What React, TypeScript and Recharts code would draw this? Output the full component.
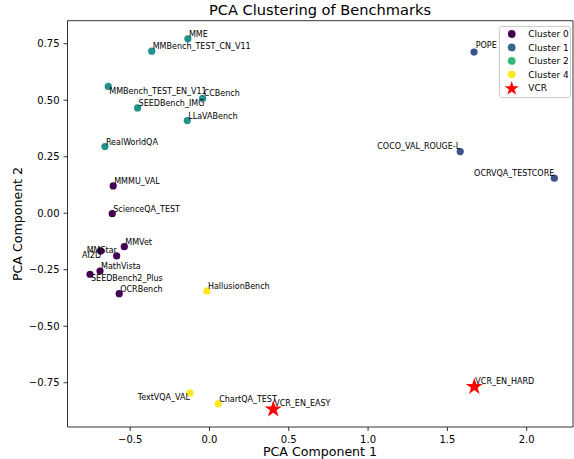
import React from 'react';
import { ScatterChart, Scatter, XAxis, YAxis, Legend } from 'recharts';

const benchmarks = [
  'MME', 'MMBench_TEST_CN_V11', 'MMBench_TEST_EN_V11', 'CCBench', 'SEEDBench_IMG', 'LLaVABench', 'RealWorldQA',
  'MMMU_VAL', 'ScienceQA_TEST', 'MMVet', 'MMStar', 'AI2D', 'MathVista', 'SEEDBench2_Plus', 'OCRBench',
  'POPE', 'COCO_VAL_ROUGE-L', 'OCRVQA_TESTCORE',
  'HallusionBench', 'TextVQA_VAL', 'ChartQA_TEST',
];
const pc1 = [
  -0.136, -0.364, -0.638, -0.043, -0.453, -0.14, -0.659,
  -0.607, -0.613, -0.537, -0.686, -0.585, -0.69, -0.753, -0.569,
  1.668, 1.581, 2.174,
  -0.016, -0.123, 0.055,
];
const pc2 = [
  0.772, 0.717, 0.561, 0.508, 0.466, 0.41, 0.295,
  0.121, -0.002, -0.148, -0.167, -0.189, -0.256, -0.27, -0.356,
  0.713, 0.273, 0.155,
  -0.344, -0.795, -0.843,
];
const clusterIds = [
  2, 2, 2, 2, 2, 2, 2,
  0, 0, 0, 0, 0, 0, 0, 0,
  1, 1, 1,
  4, 4, 4,
];

const vcrNames = ['VCR_EN_EASY', 'VCR_EN_HARD'];
const vcrPc1 = [0.402, 1.67];
const vcrPc2 = [-0.864, -0.764];

const clusterList = [0, 1, 2, 4];
const legendNames = ['Cluster 0', 'Cluster 1', 'Cluster 2', 'Cluster 4', 'VCR'];

const xTicks = [-0.5, 0, 0.5, 1, 1.5, 2];
const yTicks = [-0.75, -0.5, -0.25, 0, 0.25, 0.5, 0.75];

// ---- styling ----
const FONT = '"DejaVu Sans", Verdana, sans-serif';
const pointColors: Record<number, string> = { 0: '#440154', 1: '#3b528b', 2: '#21918c', 4: '#fde725' };
const legendColors = ['#440154', '#31688e', '#35b779', '#fde725', '#ff0000'];
const xDomain: [number, number] = [-0.895, 2.292];
const yDomain: [number, number] = [-0.946, 0.852];

const PLOT = { left: 67.5, top: 20.7, right: 573, bottom: 427 };

const labelPlacement: Record<string, { dx: number; dy: number; anchor?: 'start' | 'end' }> = {
  'MMBench_TEST_EN_V11': { dx: 1, dy: 7.6 },
  'MMStar': { dx: -14, dy: 2.3 },
  'AI2D': { dx: -34.7, dy: 2 },
  'SEEDBench2_Plus': { dx: 1, dy: 7 },
  'TextVQA_VAL': { dx: 0, dy: 6.7, anchor: 'end' },
  'COCO_VAL_ROUGE-L': { dx: 0, dy: -2.4, anchor: 'end' },
  'OCRVQA_TESTCORE': { dx: 0, dy: -2.3, anchor: 'end' },
  'POPE': { dx: 1.7, dy: -4 },
};

const fmtMinus = (v: number, d: number) => {
  const s = Math.abs(v).toFixed(d);
  return v < 0 ? '\u2212' + s : s;
};

const clusterData = clusterList.map((c) =>
  benchmarks
    .map((name, i) => ({ name, x: pc1[i], y: pc2[i], c: clusterIds[i] }))
    .filter((d) => d.c === c)
);
const vcrData = vcrNames.map((name, i) => ({ name, x: vcrPc1[i], y: vcrPc2[i] }));
const labelData = [
  ...benchmarks.map((name, i) => ({ name, x: pc1[i], y: pc2[i] })),
  ...vcrData,
];

const starPath = (cx: number, cy: number, R: number) => {
  const r = R * 0.381966;
  const pts: string[] = [];
  for (let i = 0; i < 10; i++) {
    const a = (-90 + i * 36) * (Math.PI / 180);
    const rad = i % 2 === 0 ? R : r;
    pts.push(`${(cx + rad * Math.cos(a)).toFixed(2)},${(cy + rad * Math.sin(a)).toFixed(2)}`);
  }
  return 'M' + pts.join('L') + 'Z';
};

const makeDot = (color: string) => (props: any) => {
  const { cx, cy } = props;
  if (cx == null || cy == null) return <g />;
  return <circle cx={cx} cy={cy} r={3.6} fill={color} />;
};

const StarShape = (props: any) => {
  const { cx, cy } = props;
  if (cx == null || cy == null) return <g />;
  return <path d={starPath(cx, cy + 0.8, 9)} fill="#ff0000" />;
};

const LabelShape = (props: any) => {
  const { cx, cy, payload } = props;
  if (cx == null || cy == null || !payload) return <g />;
  const p = labelPlacement[payload.name] || { dx: 1, dy: -2 };
  return (
    <text
      x={cx + p.dx}
      y={cy + p.dy}
      textAnchor={p.anchor || 'start'}
      fontSize={8}
      fontFamily={FONT}
      fill="#000"
    >
      {payload.name}
    </text>
  );
};

const LegendBox = () => {
  const rowY = (i: number) => 8 + i * 13.45;
  return (
    <svg width={73} height={73} style={{ display: 'block' }}>
      <rect x={0.5} y={0.5} width={71} height={71} rx={2.5} ry={2.5} fill="rgba(255,255,255,0.8)" stroke="#cccccc" strokeWidth={1} />
      {legendNames.map((n, i) => (
        <g key={n}>
          {i < 4 ? (
            <circle cx={12.7} cy={rowY(i)} r={3.9} fill={legendColors[i]} />
          ) : (
            <path d={starPath(12.7, rowY(i) + 0.8, 7.5)} fill={legendColors[i]} />
          )}
          <text x={29.3} y={rowY(i) + 3.3} fontSize={9} fontFamily={FONT} fill="#000">
            {n}
          </text>
        </g>
      ))}
    </svg>
  );
};

export default function App() {
  const tickStyle = { fontSize: 10, fill: '#000', fontFamily: FONT };
  return (
    <div style={{ position: 'absolute', left: 0, top: 0, width: 574, height: 459, background: '#fff' }}>
      <ScatterChart width={574} height={459} margin={{ top: PLOT.top, right: 574 - PLOT.right, bottom: 0, left: 0 }}>
        <XAxis
          dataKey="x"
          type="number"
          domain={xDomain}
          allowDataOverflow
          ticks={xTicks}
          interval={0}
          tickFormatter={(v: number) => fmtMinus(v, 1)}
          tick={tickStyle}
          tickSize={4}
          tickMargin={4.5}
          tickLine={{ stroke: '#000', strokeWidth: 0.8 }}
          axisLine={{ stroke: '#000', strokeWidth: 0.8 }}
          height={459 - PLOT.bottom}
        />
        <YAxis
          dataKey="y"
          type="number"
          domain={yDomain}
          allowDataOverflow
          ticks={yTicks}
          interval={0}
          tickFormatter={(v: number) => fmtMinus(v, 2)}
          tick={tickStyle}
          tickSize={4}
          tickMargin={4}
          tickLine={{ stroke: '#000', strokeWidth: 0.8 }}
          axisLine={{ stroke: '#000', strokeWidth: 0.8 }}
          width={PLOT.left}
        />
        {clusterList.map((c, i) => (
          <Scatter
            key={c}
            name={legendNames[i]}
            data={clusterData[i]}
            fill={pointColors[c]}
            shape={makeDot(pointColors[c])}
            isAnimationActive={false}
          />
        ))}
        <Scatter name="VCR" data={vcrData} fill="#ff0000" shape={StarShape} isAnimationActive={false} />
        <Scatter
          name="labels"
          data={labelData}
          legendType="none"
          shape={LabelShape}
          isAnimationActive={false}
        />
        <Legend
          layout="vertical"
          align="center"
          verticalAlign="middle"
          wrapperStyle={{ position: 'absolute', left: 499, top: 26, width: 73, height: 73 }}
          content={() => <LegendBox />}
        />
      </ScatterChart>
      <svg
        width={574}
        height={459}
        style={{ position: 'absolute', left: 0, top: 0, pointerEvents: 'none' }}
      >
        <polyline
          points={`${PLOT.left},${PLOT.top} ${PLOT.right},${PLOT.top} ${PLOT.right},${PLOT.bottom}`}
          fill="none"
          stroke="#000"
          strokeWidth={0.8}
        />
        <text x={320} y={15} textAnchor="middle" fontSize={14.6} fontFamily={FONT} fill="#000">
          PCA Clustering of Benchmarks
        </text>
        <text x={320} y={456} textAnchor="middle" fontSize={12.6} fontFamily={FONT} fill="#000">
          PCA Component 1
        </text>
        <text
          x={0}
          y={0}
          transform="translate(21.5, 224) rotate(-90)"
          textAnchor="middle"
          fontSize={12.6}
          fontFamily={FONT}
          fill="#000"
        >
          PCA Component 2
        </text>
      </svg>
    </div>
  );
}
